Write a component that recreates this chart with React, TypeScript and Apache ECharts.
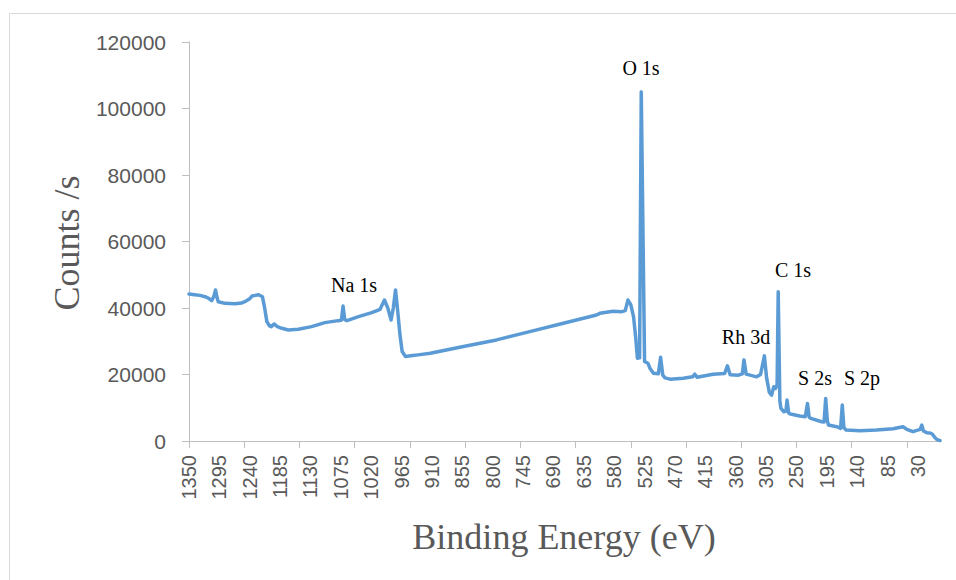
import React, { useEffect, useRef } from "react";
import * as echarts from "echarts";

// Binding energy axis categories (eV), 1350 down to -10 in 1 eV steps
const energyStart = 1350;
const energyEnd = -10;
const categories: string[] = [];
for (let e = energyStart; e >= energyEnd; e--) categories.push(String(e));

// Spectrum: [binding energy (eV), counts/s]
const spectrumEnergy = [
  1350, 1340, 1330, 1321, 1315, 1309, 1305, 1302, 1299, 1297, 1285, 1267, 1255, 1249, 1240, 1236,
  1230, 1224, 1217, 1213, 1209, 1204, 1201, 1196, 1190, 1182, 1170, 1152, 1128, 1104, 1080, 1074,
  1071, 1068, 1064, 1043, 1019, 1004, 996, 990, 984, 980, 976, 972, 968, 964, 958, 945, 935, 913,
  853, 793, 733, 672, 612, 606, 582, 566, 560, 555, 550, 545, 541, 538, 534, 531, 525, 519, 515,
  509, 500, 496, 492, 488, 479, 455, 438, 434, 430, 401, 380, 375, 370, 355, 348, 345, 341, 322,
  315, 308, 304, 299, 295, 291, 288, 285, 283, 280, 278, 273, 269, 267, 264, 261, 244, 234, 230,
  227, 224, 204, 200, 197, 194, 192, 177, 170, 167, 164, 160, 135, 105, 75, 57, 50, 39, 26, 23,
  20, 14, 8, 4, 0, -4, -10,
];
const spectrumCounts = [
  44200, 44000, 43800, 43400, 43000, 42200, 43500, 45400, 43000, 41900, 41400, 41300, 41500, 41900, 42800, 43600,
  43800, 44000, 43400, 40000, 35900, 34600, 34400, 35200, 34400, 33900, 33400, 33600, 34400, 35600, 36200, 36300,
  40600, 36500, 36200, 37400, 38600, 39600, 42400, 40000, 36400, 40000, 45400, 39000, 32000, 26900, 25400, 25700, 25900, 26400,
  28400, 30400, 32900, 35400, 37900, 38400, 39000, 38900, 39200, 42400, 41000, 37400, 31000, 24900, 25000, 105000, 23900, 23400, 21800,
  20400, 20200, 25200, 19800, 19000, 18600, 18900, 19300, 20100, 19200, 20100, 20300, 22600, 19900, 19800, 20200, 24400, 20100, 19300,
  20000, 25600, 19000, 14600, 13800, 16300, 15800, 17000, 44900, 12000, 9800, 8800, 9000, 12300, 8400, 8100, 7500, 7300, 11300,
  7200, 6800, 5800, 5700, 12800, 6000, 4800, 4300, 3800, 10800, 4000, 3300, 3100, 3300, 3700, 4300, 3500, 2800, 3500, 4800,
  3000, 2500, 2400, 2100, 1200, 500, 100,
];

// Y axis scale
const yMin = 0;
const yMax = 120000;
const yStep = 20000;

// Peak annotations
const peakLabels = ["Na 1s", "O 1s", "Rh 3d", "C 1s", "S 2s", "S 2p"];

export default function App() {
  const ref = useRef<HTMLDivElement>(null);

  useEffect(() => {
    if (!ref.current) return;
    const chart = echarts.init(ref.current, undefined, { renderer: "svg" });

    const seriesData = spectrumEnergy.map((e, i) => [energyStart - e, spectrumCounts[i]]);

    const labelPos: Record<string, [number, number]> = {
      "Na 1s": [354, 285],
      "O 1s": [641, 68],
      "Rh 3d": [746, 337],
      "C 1s": [793, 270],
      "S 2s": [815, 378],
      "S 2p": [862, 378],
    };

    const gray = "#595959";
    const axisGray = "#bfbfbf";

    chart.setOption({
      animation: false,
      backgroundColor: "#ffffff",
      grid: { left: 189, right: 16, top: 42, bottom: 139, containLabel: false },
      xAxis: {
        type: "category",
        data: categories,
        boundaryGap: false,
        axisLine: { show: true, lineStyle: { color: axisGray, width: 1 } },
        axisTick: { show: true, interval: 99, length: 7, lineStyle: { color: axisGray } },
        axisLabel: {
          interval: 54,
          rotate: 90,
          margin: 14,
          color: gray,
          fontSize: 20,
          fontFamily: "Liberation Sans",
        },
        splitLine: { show: false },
      },
      yAxis: {
        type: "value",
        min: yMin,
        max: yMax,
        interval: yStep,
        axisLine: { show: true, lineStyle: { color: axisGray, width: 1 } },
        axisTick: { show: true, length: 7, lineStyle: { color: axisGray } },
        axisLabel: {
          margin: 23,
          color: gray,
          fontSize: 21,
          fontFamily: "Liberation Sans",
          formatter: (v: number) => String(v),
        },
        splitLine: { show: false },
      },
      series: [
        {
          type: "line",
          data: seriesData,
          showSymbol: false,
          symbol: "none",
          lineStyle: { color: "#5b9bd5", width: 3.5, join: "round", cap: "round" },
          itemStyle: { color: "#5b9bd5" },
        },
      ],
      graphic: [
        {
          type: "rect",
          silent: true,
          shape: { x: 9.5, y: 13.5, width: 1000, height: 700 },
          style: { fill: "none", stroke: "#d9d9d9", lineWidth: 1 },
        },
        {
          type: "text",
          x: 67,
          y: 243,
          rotation: Math.PI / 2,
          style: {
            text: "Counts /s",
            fill: gray,
            font: '36px "Liberation Serif"',
            textAlign: "center",
            textVerticalAlign: "middle",
          },
        },
        {
          type: "text",
          x: 564,
          y: 537,
          style: {
            text: "Binding Energy (eV)",
            fill: gray,
            font: '36px "Liberation Serif"',
            textAlign: "center",
            textVerticalAlign: "middle",
          },
        },
        ...peakLabels.map((t) => ({
          type: "text",
          x: labelPos[t][0],
          y: labelPos[t][1],
          style: {
            text: t,
            fill: "#000000",
            font: '20px "Liberation Serif"',
            textAlign: "center",
            textVerticalAlign: "middle",
          },
        })),
      ],
    });

    return () => chart.dispose();
  }, []);

  return (
    <div
      ref={ref}
      style={{ position: "absolute", left: 0, top: 0, width: 956, height: 580, background: "#fff" }}
    />
  );
}
